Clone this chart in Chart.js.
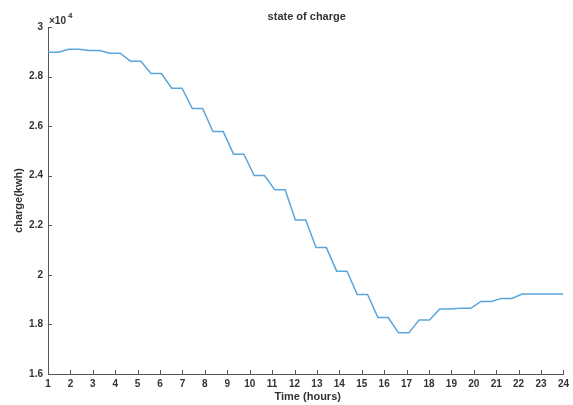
<!DOCTYPE html>
<html>
<head>
<meta charset="utf-8">
<script src="https://cdn.jsdelivr.net/npm/chart.js@4.4.1/dist/chart.umd.min.js"></script>
<style>
  html, body { margin: 0; padding: 0; background: #ffffff; }
  #wrap { width: 573px; height: 405px; position: relative; }
</style>
</head>
<body>
<div id="wrap"><canvas id="c" width="573" height="405"></canvas></div>
<script>
// Time (hours) of each sample
const times = [
  1.00, 1.46, 1.92, 2.38, 2.84, 3.30, 3.76, 4.22, 4.68, 5.14,
  5.60, 6.06, 6.52, 6.98, 7.44, 7.90, 8.36, 8.82, 9.28, 9.74,
  10.20, 10.66, 11.12, 11.58, 12.04, 12.50, 12.96, 13.42, 13.88, 14.34,
  14.80, 15.26, 15.72, 16.18, 16.64, 17.10, 17.56, 18.02, 18.48, 18.94,
  19.40, 19.86, 20.32, 20.78, 21.24, 21.70, 22.16, 22.62, 23.08, 23.54,
  24.00
];
// State of charge (kWh)
const charge = [
  28980, 28980, 29100, 29100, 29050, 29050, 28940, 28940, 28620, 28620,
  28120, 28120, 27530, 27530, 26710, 26710, 25780, 25780, 24870, 24870,
  24010, 24010, 23430, 23430, 22210, 22210, 21100, 21100, 20150, 20150,
  19210, 19210, 18280, 18280, 17660, 17660, 18180, 18180, 18620, 18620,
  18650, 18650, 18930, 18930, 19050, 19050, 19230, 19230, 19230, 19230,
  19230
];
const xTicks = [1,2,3,4,5,6,7,8,9,10,11,12,13,14,15,16,17,18,19,20,21,22,23,24];
const yTicks = [16000,18000,20000,22000,24000,26000,28000,30000];

const chartTitle = 'state of charge';
const xTitle = 'Time (hours)';
const yTitle = 'charge(kwh)';

const axisColor = '#555555';
const textColor = '#333333';
const lineColor = '#5aa5dc';
const fontFam = '"Liberation Sans", Arial, sans-serif';

const points = times.map((t, i) => ({ x: t, y: charge[i] }));

const decor = {
  id: 'decor',
  afterDraw(chart) {
    const ctx = chart.ctx;
    const xs = chart.scales.x, ys = chart.scales.y;
    const a = chart.chartArea;
    ctx.save();
    // inward tick marks
    ctx.strokeStyle = axisColor;
    ctx.lineWidth = 1;
    ctx.beginPath();
    xTicks.forEach(v => {
      const px = Math.round(xs.getPixelForValue(v)) + 0.5;
      ctx.moveTo(px, a.bottom);
      ctx.lineTo(px, a.bottom - 4);
    });
    yTicks.forEach(v => {
      const py = Math.round(ys.getPixelForValue(v)) + 0.5;
      ctx.moveTo(a.left, py);
      ctx.lineTo(a.left + 4, py);
    });
    ctx.stroke();

    ctx.fillStyle = textColor;
    // title
    ctx.font = 'bold 11px ' + fontFam;
    ctx.textAlign = 'center';
    ctx.textBaseline = 'middle';
    ctx.fillText(chartTitle, (a.left + a.right) / 2 + 1, 17);
    // x axis title
    ctx.fillText(xTitle, (a.left + a.right) / 2 + 2, 397);
    // y axis title
    ctx.save();
    ctx.translate(19, (a.top + a.bottom) / 2);
    ctx.rotate(-Math.PI / 2);
    ctx.fillText(yTitle, 0, 0);
    ctx.restore();
    // exponent
    ctx.textAlign = 'left';
    ctx.font = 'bold 10px ' + fontFam;
    ctx.fillText('\u00d710', a.left + 1, 21);
    ctx.font = 'bold 8px ' + fontFam;
    ctx.fillText('4', a.left + 20, 16);
    ctx.restore();
  }
};

new Chart(document.getElementById('c'), {
  type: 'line',
  data: {
    datasets: [{
      data: points,
      borderColor: lineColor,
      borderWidth: 1.5,
      pointRadius: 0,
      tension: 0,
      fill: false
    }]
  },
  options: {
    responsive: false,
    animation: false,
    layout: { padding: { top: 27, right: 9, left: 0, bottom: 0 } },
    plugins: { legend: { display: false }, title: { display: false }, tooltip: { enabled: false } },
    scales: {
      x: {
        type: 'linear',
        min: 1, max: 24,
        afterFit(s) { s.height = 31; },
        afterBuildTicks(s) { s.ticks = xTicks.map(v => ({ value: v })); },
        grid: { display: true, drawOnChartArea: false, drawTicks: false, color: 'rgba(0,0,0,0)' },
        border: { display: true, color: axisColor, width: 1 },
        ticks: {
          padding: 4,
          color: textColor,
          font: { family: fontFam, size: 10, weight: 'bold' },
          maxRotation: 0,
          autoSkip: false,
          callback: v => String(v)
        }
      },
      y: {
        type: 'linear',
        min: 16000, max: 30000,
        afterFit(s) { s.width = 48; },
        afterBuildTicks(s) { s.ticks = yTicks.map(v => ({ value: v })); },
        grid: { display: true, drawOnChartArea: false, drawTicks: false, color: 'rgba(0,0,0,0)' },
        border: { display: true, color: axisColor, width: 1 },
        ticks: {
          padding: 5,
          color: textColor,
          font: { family: fontFam, size: 10, weight: 'bold' },
          callback: v => String(Math.round(v / 1000) / 10)
        }
      }
    }
  },
  plugins: [decor]
});
</script>
</body>
</html>
